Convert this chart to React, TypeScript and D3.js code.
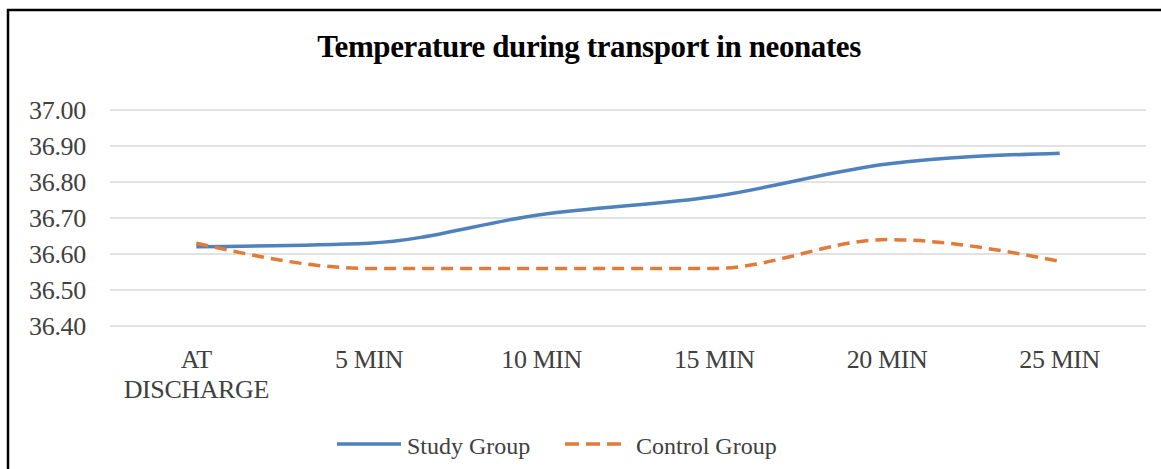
import * as d3 from "d3";
import React, { useEffect, useRef } from "react";

const categories = ["AT DISCHARGE", "5 MIN", "10 MIN", "15 MIN", "20 MIN", "25 MIN"];
const studyGroup = [36.62, 36.63, 36.71, 36.76, 36.85, 36.88];
const controlGroup = [36.63, 36.56, 36.56, 36.56, 36.64, 36.58];
const yTicks = [36.4, 36.5, 36.6, 36.7, 36.8, 36.9, 37.0];

const width = 1161;
const height = 469;
const serif = "'Liberation Serif', 'Times New Roman', serif";

const App: React.FC = () => {
  const ref = useRef<SVGSVGElement>(null);

  useEffect(() => {
    const svg = d3.select(ref.current);
    svg.selectAll("*").remove();

    svg.append("rect").attr("width", width).attr("height", height).attr("fill", "#fff");
    // frame around the figure
    svg
      .append("rect")
      .attr("x", 8)
      .attr("y", 10)
      .attr("width", width)
      .attr("height", height)
      .attr("fill", "none")
      .attr("stroke", "#000")
      .attr("stroke-width", 2.5);

    const x = d3.scaleBand().domain(categories).range([110, 1146]);
    const y = d3.scaleLinear().domain([36.4, 37.0]).range([326, 110]);
    const cx = (c: string) => (x(c) as number) + x.bandwidth() / 2;

    // grid
    svg
      .append("g")
      .selectAll("line")
      .data(yTicks)
      .enter()
      .append("line")
      .attr("x1", 110)
      .attr("x2", 1146)
      .attr("y1", (d) => y(d))
      .attr("y2", (d) => y(d))
      .attr("stroke", "#d9d9d9")
      .attr("stroke-width", 1.5);

    svg
      .append("g")
      .selectAll("text")
      .data(yTicks)
      .enter()
      .append("text")
      .attr("x", 86)
      .attr("y", (d) => y(d))
      .attr("dy", "0.34em")
      .attr("text-anchor", "end")
      .attr("font-family", serif)
      .attr("font-size", "26px")
      .attr("letter-spacing", "-0.3px")
      .attr("fill", "#404040")
      .text((d) => d.toFixed(2));

    // category labels, first one wraps onto two lines
    const xl = svg.append("g");
    categories.forEach((c) => {
      const lines = c === "AT DISCHARGE" ? ["AT", "DISCHARGE"] : [c];
      lines.forEach((t, i) => {
        xl.append("text")
          .attr("x", cx(c))
          .attr("y", 368 + i * 30)
          .attr("text-anchor", "middle")
          .attr("font-family", serif)
          .attr("font-size", "26px")
          .attr("letter-spacing", "-0.4px")
          .attr("fill", "#404040")
          .text(t);
      });
    });

    const line = d3
      .line<number>()
      .x((_, i) => cx(categories[i]))
      .y((d) => y(d))
      .curve(d3.curveMonotoneX);

    svg
      .append("path")
      .attr("d", line(studyGroup))
      .attr("fill", "none")
      .attr("stroke", "#4f81bd")
      .attr("stroke-width", 3.5);

    svg
      .append("path")
      .attr("d", line(controlGroup))
      .attr("fill", "none")
      .attr("stroke", "#e07b39")
      .attr("stroke-width", 3.5)
      .attr("stroke-dasharray", "12 7");

    // title
    svg
      .append("text")
      .attr("x", 589)
      .attr("y", 57)
      .attr("text-anchor", "middle")
      .attr("font-family", serif)
      .attr("font-weight", "bold")
      .attr("font-size", "31px")
      .attr("letter-spacing", "-0.4px")
      .attr("fill", "#000")
      .text("Temperature during transport in neonates");

    // legend
    const lg = svg.append("g");
    lg.append("line")
      .attr("x1", 337)
      .attr("x2", 401)
      .attr("y1", 444)
      .attr("y2", 444)
      .attr("stroke", "#4f81bd")
      .attr("stroke-width", 3.5);
    lg.append("text")
      .attr("x", 407)
      .attr("y", 454)
      .attr("font-family", serif)
      .attr("font-size", "24px")
      .attr("fill", "#404040")
      .text("Study Group");
    lg.append("line")
      .attr("x1", 565)
      .attr("x2", 626)
      .attr("y1", 444)
      .attr("y2", 444)
      .attr("stroke", "#e07b39")
      .attr("stroke-width", 3.5)
      .attr("stroke-dasharray", "14 7");
    lg.append("text")
      .attr("x", 636)
      .attr("y", 454)
      .attr("font-family", serif)
      .attr("font-size", "24px")
      .attr("fill", "#404040")
      .text("Control Group");
  }, []);

  return (
    <svg
      ref={ref}
      width={width}
      height={height}
      style={{ position: "absolute", left: 0, top: 0, display: "block" }}
    />
  );
};

export default App;
